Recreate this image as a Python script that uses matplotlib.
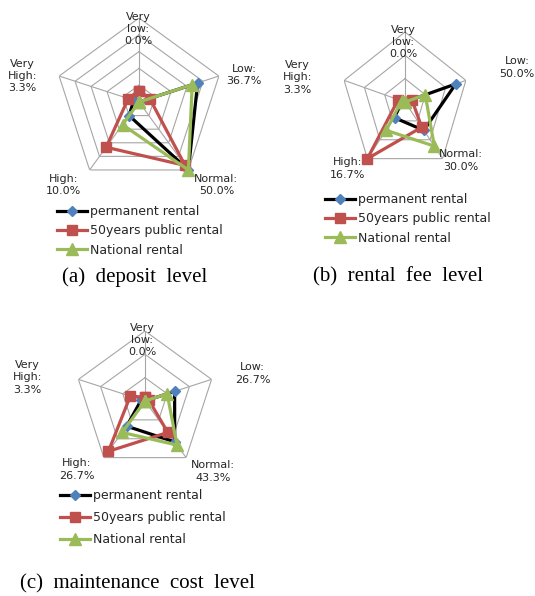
import numpy as np
import matplotlib
matplotlib.use('Agg')
import matplotlib.pyplot as plt

# categories (clockwise from top)
cats = ['Very low', 'Low', 'Normal', 'High', 'Very High']
series_names = ['permanent rental', '50years public rental', 'National rental']

# (a) deposit level, %
perm_a = [0.0, 36.7, 50.0, 10.0, 3.3]
pub_a = [6.7, 6.7, 46.7, 33.3, 6.7]
nat_a = [0.0, 33.3, 50.0, 16.7, 0.0]

# (b) rental fee level, %
perm_b = [0.0, 50.0, 30.0, 16.7, 3.3]
pub_b = [0.0, 6.7, 26.7, 60.0, 6.7]
nat_b = [0.0, 20.0, 46.7, 30.0, 3.3]

# (c) maintenance cost level, %
perm_c = [0.0, 26.7, 43.3, 26.7, 3.3]
pub_c = [3.3, 3.3, 33.3, 53.3, 13.3]
nat_c = [0.0, 20.0, 46.7, 33.3, 0.0]

captions = ['(a)  deposit  level', '(b)  rental  fee  level', '(c)  maintenance  cost  level']

W, H = 535, 596
fig = plt.figure(figsize=(W / 100, H / 100), dpi=100)

angles = np.linspace(0, 2 * np.pi, len(cats), endpoint=False)
ang_c = np.append(angles, angles[0])

styles = [dict(color='black', marker='D', mfc='#4F81BD', mec='#4F81BD', ms=5),
          dict(color='#C0504D', marker='s', mfc='#C0504D', mec='#C0504D', ms=7.5),
          dict(color='#9BBB59', marker='^', mfc='#9BBB59', mec='#9BBB59', ms=8)]
grid_col = '#A6A6A6'
txt_col = '#262626'


def radar(center, rx, ry, rmax, step, data, lab_off, leg_pos, leg_space):
    cx, cy = center
    ax = fig.add_axes([(cx - rx) / W, (H - cy - ry) / H, 2 * rx / W, 2 * ry / H],
                      projection='polar')
    ax.set_aspect('auto')
    ax.set_theta_zero_location('N')
    ax.set_theta_direction(-1)
    ax.set_ylim(0, rmax)
    ax.set_xticks([])
    ax.set_yticks([])
    ax.grid(False)
    ax.spines['polar'].set_visible(False)
    ax.patch.set_alpha(0)

    # pentagon grid
    for r in np.arange(step, rmax + 0.01, step):
        ax.plot(ang_c, [r] * len(ang_c), color=grid_col, lw=0.8, zorder=1)
    for a in angles:
        ax.plot([a, a], [0, rmax], color=grid_col, lw=0.8, zorder=1)

    handles = []
    for vals, st in zip(data, styles):
        v = np.append(vals, vals[0])
        h, = ax.plot(ang_c, v, lw=2.3, clip_on=False, zorder=3, **st)
        handles.append(h)

    # data labels of first series
    for a, cat, val, off in zip(angles, cats, data[0], lab_off):
        t = cat.replace(' ', '\n') + ':\n' + '%.1f%%' % val
        ax.annotate(t, xy=(a, rmax), xytext=off, textcoords='offset pixels',
                    ha='center', va='center', fontsize=8, linespacing=1.3,
                    color=txt_col, annotation_clip=False, zorder=4)

    ax.legend(handles, series_names, loc='upper left',
              bbox_to_anchor=(leg_pos[0] / W, 1 - leg_pos[1] / H),
              bbox_transform=fig.transFigure, frameon=False, borderpad=0,
              borderaxespad=0, handlelength=2.4, handletextpad=0.25,
              labelspacing=leg_space, fontsize=9, labelcolor=txt_col)
    return ax


radar((139, 102), 84, 84, 50, 10, [perm_a, pub_a, nat_a],
      [(-1, -11), (25, 1), (28, -15), (-26, -15), (-37, 0)], (57, 205), 0.5)
radar((405, 102), 64, 70, 60, 20, [perm_b, pub_b, nat_b],
      [(-2, -10), (51, 13), (18, -2), (-20, -10), (-47, 3)], (325, 193), 0.5)
radar((145, 401), 70, 70, 60, 20, [perm_c, pub_c, nat_c],
      [(-3, -9), (41, 6), (27, -14), (-27, -12), (-51, 2)], (60, 489), 0.72)

fig.text(135 / W, 1 - 277 / H, captions[0], ha='center', va='center',
         family='Liberation Serif', fontsize=15, color='black')
fig.text(398 / W, 1 - 277 / H, captions[1], ha='center', va='center',
         family='Liberation Serif', fontsize=15, color='black')
fig.text(20 / W, 1 - 584 / H, captions[2], ha='left', va='center',
         family='Liberation Serif', fontsize=15, color='black')

fig.savefig('out.png', dpi=100)
